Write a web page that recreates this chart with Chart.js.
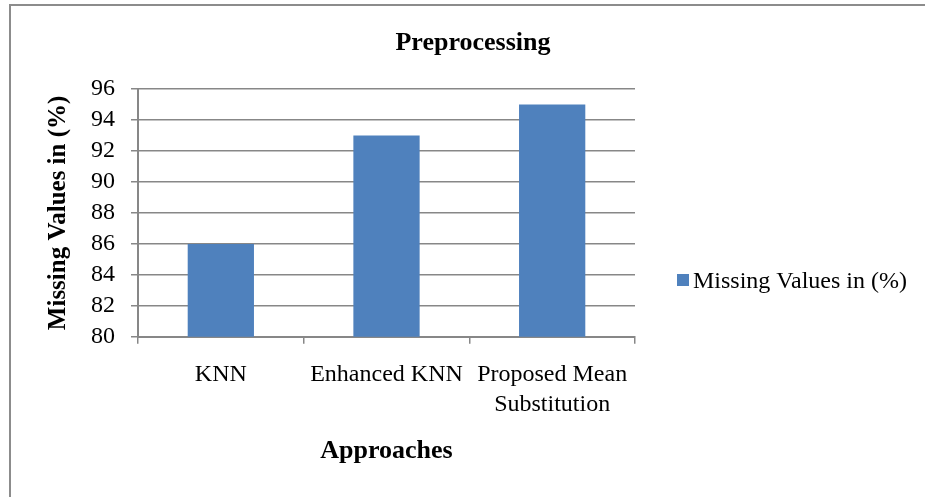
<!DOCTYPE html>
<html>
<head>
<meta charset="utf-8">
<script src="https://cdn.jsdelivr.net/npm/chart.js@4"></script>
<style>
  html, body { margin: 0; padding: 0; background: #fff; }
  #wrap { width: 925px; height: 497px; }
</style>
</head>
<body>
<div id="wrap"><canvas id="chart"></canvas></div>
<script>
const categories = ['KNN', 'Enhanced KNN', ['Proposed Mean', 'Substitution']];
const seriesName = 'Missing Values in (%)';
const missingValues = [86, 93, 95];
const chartTitle = 'Preprocessing';
const xTitle = 'Approaches';
const yTitle = 'Missing Values in (%)';

const serif = '"Liberation Serif", "Times New Roman", serif';
const barColor = '#4F81BD';
const gridColor = '#878787';

// frame (top + left only), title and legend drawn by hand
const extras = {
    id: 'extras',
    afterDraw(chart) {
        let ctx = chart.ctx;
        ctx.save();
        ctx.strokeStyle = '#8c8c8c';
        ctx.lineWidth = 2;
        ctx.beginPath();
        ctx.moveTo(10, 497);
        ctx.lineTo(10, 5);
        ctx.lineTo(925, 5);
        ctx.stroke();

        ctx.fillStyle = '#000';
        ctx.font = 'bold 26px ' + serif;
        ctx.textAlign = 'center';
        ctx.textBaseline = 'alphabetic';
        ctx.fillText(chartTitle, 473, 50);

        let ds = chart.data.datasets[0];
        ctx.fillStyle = ds.backgroundColor;
        ctx.fillRect(677, 274, 12, 12);
        ctx.fillStyle = '#000';
        ctx.font = '24px ' + serif;
        ctx.textAlign = 'left';
        ctx.fillText(ds.label, 693, 288);
        ctx.restore();
    }
};

let ctx = document.getElementById('chart').getContext('2d');
let chart = new Chart(ctx, {
    type: 'bar',
    data: {
        labels: categories,
        datasets: [{
            label: seriesName,
            backgroundColor: barColor,
            data: missingValues,
            barPercentage: 0.4,
            categoryPercentage: 1
        }]
    },
    options: {
        responsive: true,
        maintainAspectRatio: false,
        animation: false,
        layout: { padding: { top: 89, left: 44, right: 290, bottom: 30 } },
        scales: {
            x: {
                grid: { drawOnChartArea: false, color: gridColor, lineWidth: 1.5, tickLength: 7, offset: true },
                border: { color: gridColor, width: 2 },
                ticks: {
                    color: '#000', padding: 16, maxRotation: 0, autoSkip: false,
                    font: { family: serif, size: 24, lineHeight: 1.25 }
                },
                title: {
                    display: true, text: xTitle, color: '#000',
                    font: { family: serif, size: 26, weight: 'bold' },
                    padding: { top: 0, bottom: 0 }
                }
            },
            y: {
                min: 80, max: 96,
                grid: { color: gridColor, lineWidth: 1.5, tickLength: 7 },
                border: { color: gridColor, width: 2 },
                ticks: {
                    stepSize: 2, autoSkip: false, color: '#000', padding: 16,
                    font: { family: serif, size: 24, lineHeight: 1 }
                },
                title: {
                    display: true, text: yTitle, color: '#000',
                    font: { family: serif, size: 25, weight: 'bold' },
                    padding: { top: 0, bottom: 1 }
                }
            }
        },
        plugins: {
            legend: { display: false },
            title: { display: false },
            tooltip: { enabled: false }
        }
    },
    plugins: [extras]
});
</script>
</body>
</html>
